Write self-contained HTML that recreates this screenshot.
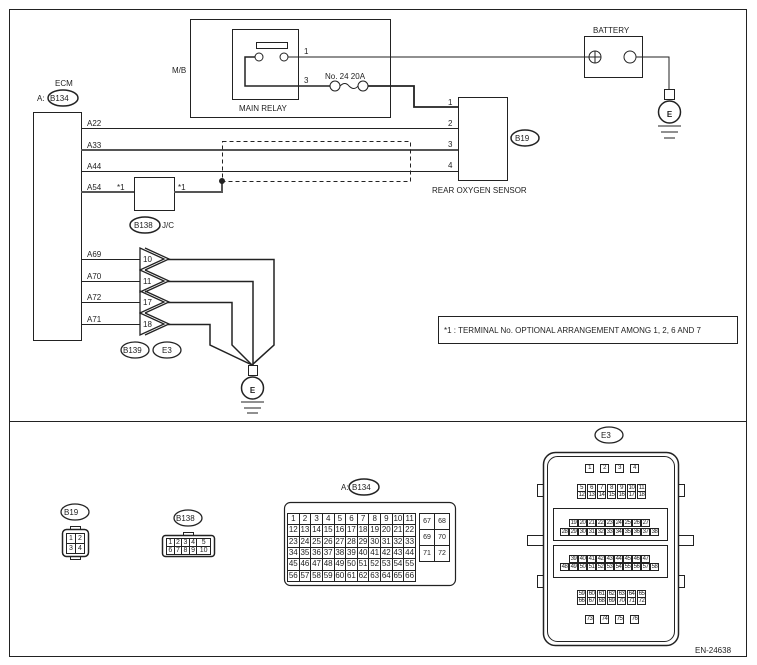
<!DOCTYPE html>
<html><head><meta charset="utf-8"><style>
body{margin:0;background:#fff;}
#w{position:relative;width:757px;height:665px;overflow:hidden;font-family:"Liberation Sans",sans-serif;}
svg{position:absolute;left:0;top:0}
svg text{font-family:"Liberation Sans",sans-serif;font-size:8px;fill:#222}
table{position:absolute;border-collapse:collapse;font-size:7px;font-family:"Liberation Sans",sans-serif;color:#222}
td{border:1px solid #222;text-align:center;padding:0;line-height:1}
.r{position:absolute;display:flex;color:#222}
.r span{border:1px solid #222;box-sizing:border-box;width:9px;height:8px;font-size:6px;text-align:center;line-height:6px;overflow:visible;white-space:nowrap;letter-spacing:-0.5px}
.g6{gap:6px}.g6 span{height:9px;line-height:7px}
</style></head><body><div id="w">
<svg width="757" height="665" viewBox="0 0 757 665" fill="none" stroke="#222" stroke-width="1">
<rect x="9.5" y="9.5" width="737" height="647"/>
<line x1="9" y1="421.5" x2="747" y2="421.5"/>
<rect x="190.5" y="19.5" width="200" height="98"/>
<rect x="232.5" y="29.5" width="66" height="70"/>
<rect x="256.5" y="42.5" width="31" height="6"/>
<circle cx="259" cy="57" r="4"/><circle cx="284" cy="57" r="4"/>
<polyline points="255,57 245,57 245,86 330,86" stroke-width="1.5"/>
<line x1="288" y1="57" x2="589" y2="57"/>
<circle cx="335" cy="86" r="5"/><circle cx="363" cy="86" r="5"/>
<path d="M340,86 q5,-5 9,0 q5,5 9,0"/>
<polyline points="368,86 414,86 414,107 458,107" stroke-width="1.8"/>
<g stroke="none"><text x="172" y="73">M/B</text><text x="304" y="54">1</text><text x="304" y="83">3</text>
<text x="325" y="79">No. 24  20A</text><text x="239" y="111">MAIN RELAY</text>
<text x="593" y="33">BATTERY</text><text x="55" y="86">ECM</text><text x="37" y="101">A:</text>
<text x="50" y="101">B134</text>
<text x="87" y="126">A22</text><text x="87" y="148">A33</text><text x="87" y="169">A44</text><text x="87" y="190">A54</text>
<text x="117" y="190">*1</text><text x="178" y="190">*1</text>
<text x="448" y="105">1</text><text x="448" y="126">2</text><text x="448" y="147">3</text><text x="448" y="168">4</text>
<text x="515" y="141">B19</text><text x="432" y="193">REAR OXYGEN SENSOR</text>
<text x="134" y="228">B138</text><text x="162" y="228">J/C</text>
<text x="87" y="257">A69</text><text x="87" y="279">A70</text><text x="87" y="300">A72</text><text x="87" y="322">A71</text>
<text x="143" y="262" font-size="7">10</text><text x="143" y="284" font-size="7">11</text><text x="143" y="305" font-size="7">17</text><text x="143" y="327" font-size="7">18</text>
<text x="123" y="353">B139</text><text x="162" y="353">E3</text>
<text x="444" y="333">*1 : TERMINAL No. OPTIONAL ARRANGEMENT AMONG 1, 2, 6 AND 7</text>
<text x="64" y="515">B19</text><text x="176" y="521">B138</text><text x="341" y="490">A:</text><text x="352" y="490">B134</text>
<text x="601" y="438">E3</text><text x="695" y="653" font-size="9">EN-24638</text>
<text x="669.5" y="117" font-size="15" font-weight="bold" text-anchor="middle">E</text><text x="252.5" y="393" font-size="15" font-weight="bold" text-anchor="middle">E</text>
</g>
<rect x="584.5" y="36.5" width="58" height="41"/>
<circle cx="595" cy="57" r="6"/><line x1="589" y1="57" x2="601" y2="57"/><line x1="595" y1="51" x2="595" y2="63"/>
<circle cx="630" cy="57" r="6"/>
<polyline points="636,57 669,57 669,89"/>
<rect x="664.5" y="89.5" width="10" height="10"/>
<circle cx="669.5" cy="112" r="11" stroke-width="1.5"/>
<line x1="658" y1="126" x2="681" y2="126"/><line x1="661" y1="132" x2="678" y2="132"/><line x1="664" y1="138" x2="675" y2="138"/>
<ellipse cx="63" cy="98" rx="15" ry="8" stroke-width="1.5"/>
<rect x="33.5" y="112.5" width="48" height="228"/>
<line x1="81" y1="128.5" x2="458" y2="128.5"/>
<line x1="81" y1="150" x2="458" y2="150" stroke="#555" stroke-width="2"/>
<line x1="81" y1="171.5" x2="458" y2="171.5"/>
<line x1="81" y1="192" x2="134" y2="192" stroke="#555" stroke-width="2"/>
<rect x="134.5" y="177.5" width="40" height="33"/>
<polyline points="174,192 222,192 222,181" stroke="#555" stroke-width="2"/>
<circle cx="222" cy="181" r="2.5" fill="#222"/>
<rect x="222.5" y="141.5" width="188" height="40" stroke-dasharray="4,3"/>
<rect x="458.5" y="97.5" width="49" height="83"/>
<ellipse cx="525" cy="138" rx="14" ry="8" stroke-width="1.5"/>
<ellipse cx="145" cy="225" rx="15" ry="8" stroke-width="1.5"/>
<line x1="81" y1="259.5" x2="140" y2="259.5"/><line x1="81" y1="281.5" x2="140" y2="281.5"/>
<line x1="81" y1="302.5" x2="140" y2="302.5"/><line x1="81" y1="324.5" x2="140" y2="324.5"/>
<g stroke-width="1.3">
<path d="M140,248 L140,270 L164,259 Z M145,248 L169,259 L145,270"/>
<path d="M140,270 L140,292 L164,281 Z M145,270 L169,281 L145,292"/>
<path d="M140,291 L140,313 L164,302 Z M145,291 L169,302 L145,313"/>
<path d="M140,313 L140,335 L164,324 Z M145,313 L169,324 L145,335"/>
</g>
<g stroke-width="1.5">
<polyline points="168,259.5 274,259.5 274,345 252,365"/>
<polyline points="168,281.5 253,281.5 253,365"/>
<polyline points="168,302.5 232,302.5 232,345 252,365"/>
<polyline points="168,324.5 210,324.5 210,345 252,365"/>
</g>
<rect x="248.5" y="365.5" width="9" height="10"/>
<circle cx="252.5" cy="388" r="11" stroke-width="1.5"/>
<line x1="241" y1="402" x2="264" y2="402"/><line x1="244" y1="408" x2="261" y2="408"/><line x1="247" y1="413" x2="258" y2="413"/>
<ellipse cx="135" cy="350" rx="14" ry="8" stroke-width="1.3"/><ellipse cx="167" cy="350" rx="14" ry="8" stroke-width="1.3"/>
<rect x="438.5" y="316.5" width="299" height="27"/>
<ellipse cx="75" cy="512" rx="14" ry="8" stroke-width="1.3"/>
<rect x="62.5" y="529.5" width="26" height="27" rx="4" stroke-width="1.5"/>
<rect x="70.5" y="526.5" width="10" height="3"/><rect x="70.5" y="556.5" width="10" height="3"/>
<ellipse cx="188" cy="518" rx="14" ry="8" stroke-width="1.3"/>
<rect x="162.5" y="535.5" width="52" height="21" rx="3" stroke-width="1.5"/><rect x="183.5" y="532.5" width="10" height="3"/>
<ellipse cx="364" cy="487" rx="15" ry="8" stroke-width="1.5"/>
<rect x="284.5" y="502.5" width="171" height="83" rx="6" stroke-width="1.2"/>
<ellipse cx="609" cy="435" rx="14" ry="8" stroke-width="1.3"/>
<rect x="543.5" y="452.5" width="135" height="193" rx="12" stroke-width="1.5"/>
<rect x="547.5" y="456.5" width="127" height="185" rx="10"/>
<rect x="553.5" y="508.5" width="114" height="32"/><rect x="553.5" y="545.5" width="114" height="32"/>
<rect x="527.5" y="535.5" width="16" height="10"/><rect x="678.5" y="535.5" width="15" height="10"/>
<rect x="537.5" y="484.5" width="6" height="12"/><rect x="678.5" y="484.5" width="6" height="12"/>
<rect x="537.5" y="575.5" width="6" height="12"/><rect x="678.5" y="575.5" width="6" height="12"/>
</svg>
<table style="left:66px;top:533px;width:19px;height:21px"><tr><td>1</td><td>2</td></tr><tr><td>3</td><td>4</td></tr></table>
<table style="left:166px;top:538px;width:45px;height:16px"><tr><td>1</td><td>2</td><td>3</td><td>4</td><td>5</td></tr><tr><td>6</td><td>7</td><td>8</td><td>9</td><td>10</td></tr></table>
<table style="left:287px;top:513px;width:129px;height:69px;font-size:8px">
<tr><td>1</td><td>2</td><td>3</td><td>4</td><td>5</td><td>6</td><td>7</td><td>8</td><td>9</td><td>10</td><td>11</td></tr>
<tr><td>12</td><td>13</td><td>14</td><td>15</td><td>16</td><td>17</td><td>18</td><td>19</td><td>20</td><td>21</td><td>22</td></tr>
<tr><td>23</td><td>24</td><td>25</td><td>26</td><td>27</td><td>28</td><td>29</td><td>30</td><td>31</td><td>32</td><td>33</td></tr>
<tr><td>34</td><td>35</td><td>36</td><td>37</td><td>38</td><td>39</td><td>40</td><td>41</td><td>42</td><td>43</td><td>44</td></tr>
<tr><td>45</td><td>46</td><td>47</td><td>48</td><td>49</td><td>50</td><td>51</td><td>52</td><td>53</td><td>54</td><td>55</td></tr>
<tr><td>56</td><td>57</td><td>58</td><td>59</td><td>60</td><td>61</td><td>62</td><td>63</td><td>64</td><td>65</td><td>66</td></tr></table>
<table style="left:419px;top:513px;width:31px;height:49px"><tr><td>67</td><td>68</td></tr><tr><td>69</td><td>70</td></tr><tr><td>71</td><td>72</td></tr></table>
<div class="r g6" style="left:585px;top:464px"><span>1</span><span>2</span><span>3</span><span>4</span></div>
<div class="r" style="left:577px;top:484px;gap:1px"><span>5</span><span>6</span><span>7</span><span>8</span><span>9</span><span>10</span><span>11</span></div>
<div class="r" style="left:577px;top:491px;gap:1px"><span>12</span><span>13</span><span>14</span><span>15</span><span>16</span><span>17</span><span>18</span></div>
<div class="r" style="left:569px;top:519px"><span>19</span><span>20</span><span>21</span><span>22</span><span>23</span><span>24</span><span>25</span><span>26</span><span>27</span></div>
<div class="r" style="left:560px;top:528px"><span>28</span><span>29</span><span>30</span><span>31</span><span>32</span><span>33</span><span>34</span><span>35</span><span>36</span><span>37</span><span>38</span></div>
<div class="r" style="left:569px;top:555px"><span>39</span><span>40</span><span>41</span><span>42</span><span>43</span><span>44</span><span>45</span><span>46</span><span>47</span></div>
<div class="r" style="left:560px;top:563px"><span>48</span><span>49</span><span>50</span><span>51</span><span>52</span><span>53</span><span>54</span><span>55</span><span>56</span><span>57</span><span>58</span></div>
<div class="r" style="left:577px;top:590px;gap:1px"><span>59</span><span>60</span><span>61</span><span>62</span><span>63</span><span>64</span><span>65</span></div>
<div class="r" style="left:577px;top:597px;gap:1px"><span>66</span><span>67</span><span>68</span><span>69</span><span>70</span><span>71</span><span>72</span></div>
<div class="r g6" style="left:585px;top:615px"><span>73</span><span>74</span><span>75</span><span>76</span></div>
</div></body></html>
